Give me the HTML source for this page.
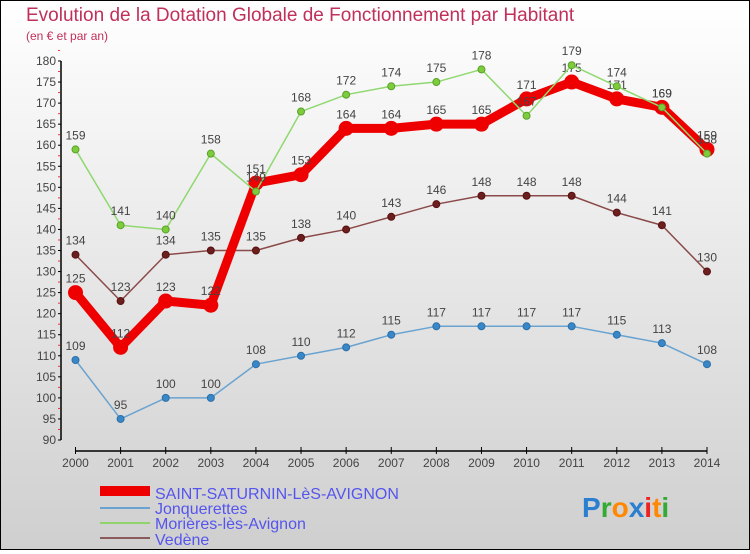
<!DOCTYPE html>
<html><head><meta charset="utf-8"><style>
html,body{margin:0;padding:0}
body{width:750px;height:550px;overflow:hidden;font-family:"Liberation Sans",sans-serif}
#c{position:absolute;left:0;top:0;width:748px;height:548px;border:1px solid #000;background:linear-gradient(#ffffff,#cfcfcf)}
</style></head><body>
<div id="c">
<svg id="s" width="748" height="548" viewBox="1 1 748 548" xmlns="http://www.w3.org/2000/svg" font-family="Liberation Sans, sans-serif">
<text x="26" y="21" font-size="19" fill="#c0305a">Evolution de la Dotation Globale de Fonctionnement par Habitant</text>
<text x="26" y="40" font-size="12" fill="#c0305a">(en € et par an)</text>
<g id="axes"></g><g id="series"></g>
<g>
<rect x="100" y="486" width="50" height="10" fill="#e00"/>
<text x="155" y="499" font-size="16" fill="#5555ee">SAINT-SATURNIN-LèS-AVIGNON</text>
<line x1="100" y1="508" x2="150" y2="508" stroke="#6aa3d0" stroke-width="2"/>
<text x="155" y="514" font-size="16" fill="#5555ee">Jonquerettes</text>
<line x1="100" y1="523" x2="150" y2="523" stroke="#8fd36a" stroke-width="2"/>
<text x="155" y="529" font-size="16" fill="#5555ee">Morières-lès-Avignon</text>
<line x1="100" y1="538" x2="150" y2="538" stroke="#8b5a5a" stroke-width="2"/>
<text x="155" y="545" font-size="16" fill="#5555ee">Vedène</text>
</g>
<text x="582" y="517" font-size="28" font-weight="bold"><tspan fill="#2a7fd0">P</tspan><tspan fill="#3a3">r</tspan><tspan fill="#f80">o</tspan><tspan fill="#2a7fd0">x</tspan><tspan fill="#e22">i</tspan><tspan fill="#f80">t</tspan><tspan fill="#3a3">i</tspan></text>
</svg></div>
<script>
const years=[2000,2001,2002,2003,2004,2005,2006,2007,2008,2009,2010,2011,2012,2013,2014];
const yTicks=[90,95,100,105,110,115,120,125,130,135,140,145,150,155,160,165,170,175,180];
const saint=[125,112,123,122,151,153,164,164,165,165,171,175,171,169,159];
const jonq=[109,95,100,100,108,110,112,115,117,117,117,117,115,113,108];
const mor=[159,141,140,158,149,168,172,174,175,178,167,179,174,169,158];
const ved=[134,123,134,135,135,138,140,143,146,148,148,148,144,141,130];
const NS="http://www.w3.org/2000/svg";
function X(i){return 75.5+i*(707-75.5)/(years.length-1);}
function Y(v){return 440-(v-90)*(440-61)/90;}
function mk(t,a,p){const e=document.createElementNS(NS,t);for(const k in a)e.setAttribute(k,a[k]);p.appendChild(e);return e;}
const ax=document.getElementById('axes');
let l=mk('line',{x1:61,y1:61,x2:61,y2:440,stroke:'#000','stroke-width':1.5},ax);


yTicks.forEach(v=>{
 mk('line',{x1:58,y1:Y(v),x2:61,y2:Y(v),stroke:'#000'},ax);
 mk('line',{x1:58,y1:Y(v+2.5),x2:60,y2:Y(v+2.5),stroke:'#e33'},ax);
 const t=mk('text',{x:56,y:Y(v)+4,'font-size':12,'text-anchor':'end',fill:'#444'},ax);t.textContent=v;
 
 
});
l=mk('line',{x1:75.5,y1:451,x2:707,y2:451,stroke:'#000','stroke-width':1.5},ax);


years.forEach((y,i)=>{
 mk('line',{x1:X(i),y1:447,x2:X(i),y2:454,stroke:'#000'},ax);
 const t=mk('text',{x:X(i),y:467,'font-size':12,'text-anchor':'middle',fill:'#444'},ax);t.textContent=y;
 
 
});
const sg=document.getElementById('series');
function draw(data,name,color,w,r,pc,stroke){
 const g=mk('g',{},sg);
 
 
 const p=mk('polyline',{points:data.map((v,i)=>X(i)+','+Y(v)).join(' '),fill:'none',stroke:color,'stroke-width':w,'stroke-linejoin':'round'},g);
 
 
 data.forEach((v,i)=>{
  const c=mk('circle',{cx:X(i),cy:Y(v),r:r,fill:pc,stroke:stroke,'stroke-width':1},g);
  
  
  const t=mk('text',{x:X(i),y:Y(v)-10,'font-size':12,'text-anchor':'middle',fill:'#444'},g);t.textContent=v;
  
  
 });
}
draw(jonq,'jonquerettes','#6aa3d0',1.5,3.5,'#3a87c8','#2a6fa8');
draw(ved,'vedene','#8b4a4a',1.5,3.5,'#6b1f1f','#5a1010');
draw(saint,'saint-saturnin','#ee0000',9,7,'#ee0000','#ee0000');
draw(mor,'morieres','#90d870',1.5,3.5,'#7ccc3c','#5aa02a');
</script>
</body></html>
